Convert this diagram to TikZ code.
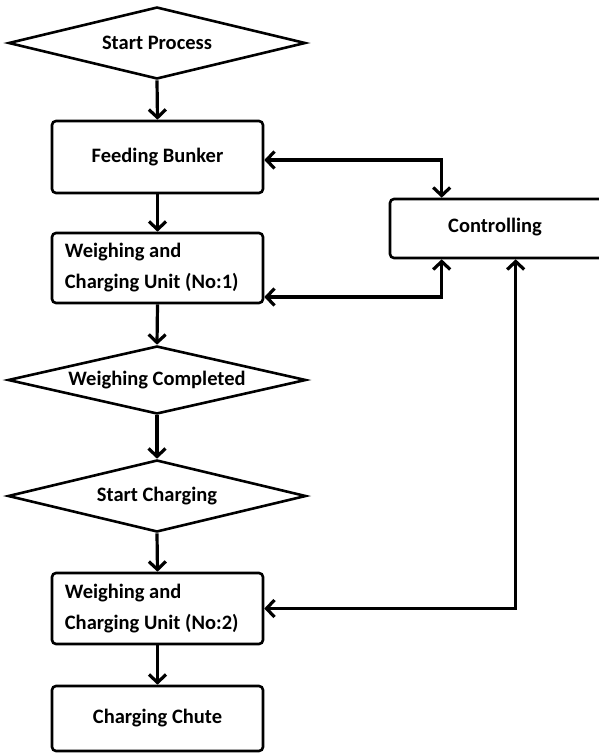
\documentclass[tikz,border=0pt]{standalone}
\usepackage{fontspec}
\setmainfont{Carlito}
\usetikzlibrary{shapes.geometric,arrows.meta}
\begin{document}
\begin{tikzpicture}[x=1pt,y=-1pt,
  lbl/.style={font=\bfseries\fontsize{20.5}{31}\selectfont, inner sep=0pt},
  box/.style={draw, line width=2.6pt, rounded corners=4pt, minimum width=211pt, inner sep=0pt},
  dia/.style={draw, diamond, line width=2.6pt, inner sep=0pt},
  tipb/.tip={Straight Barb[length=8pt,width=17pt]},
  flow/.style={line width=3.2pt, -tipb},
  conn/.style={line width=3.2pt, tipb-tipb}]
\useasboundingbox[fill=white] (0,0) rectangle (598,753);
% decisions
\node[dia, minimum width=297pt, minimum height=72pt] (sp) at (157,43) {};
\node[lbl] (spt) at (sp) {Start Process};
\node[dia, minimum width=298pt, minimum height=68pt] (wc) at (157,380) {};
\node[lbl] (wct) at (wc) {Weighing Completed};
\node[dia, minimum width=298pt, minimum height=72pt] (sc) at (157,496) {};
\node[lbl] (sct) at (sc) {Start Charging};
% boxes
\node[box, minimum height=72pt] (fb) at (157.5,157) {};
\node[lbl] (fbt) at (fb) {Feeding Bunker};
\node[box, minimum height=70pt] (w1) at (157.5,268) {};
\node[lbl, anchor=west, align=left] (w1t) at ([xshift=14pt]w1.west) {Weighing and\\Charging Unit (No:1)};
\node[box, minimum height=71pt] (w2) at (157.5,608.5) {};
\node[lbl, anchor=west, align=left] (w2t) at ([xshift=14pt]w2.west) {Weighing and\\Charging Unit (No:2)};
\node[box, minimum height=65pt] (ch) at (157.5,718.5) {};
\node[lbl] (cht) at (ch) {Charging Chute};
\node[box, minimum width=216pt, minimum height=59pt] (ctl) at (498,228.5) {};
\node[lbl] (ctlt) at (495,227) {Controlling};
% flow arrows
\draw[flow] (sp.south) -- (fb.north);
\draw[flow] (fb.south) -- (w1.north);
\draw[flow] (w1.south) -- (wc.north);
\draw[flow] (wc.south) -- (sc.north);
\draw[flow] (sc.south) -- (w2.north);
\draw[flow] (w2.south) -- (ch.north);
% control connectors
\draw[conn] ([yshift=-3pt]fb.east) -| ([xshift=53pt]ctl.north west);
\draw[conn] ([yshift=-29pt]w1.east) -| ([xshift=53pt]ctl.south west);
\draw[conn] (w2.east) -| ([xshift=127pt]ctl.south west);
\end{tikzpicture}
\end{document}
